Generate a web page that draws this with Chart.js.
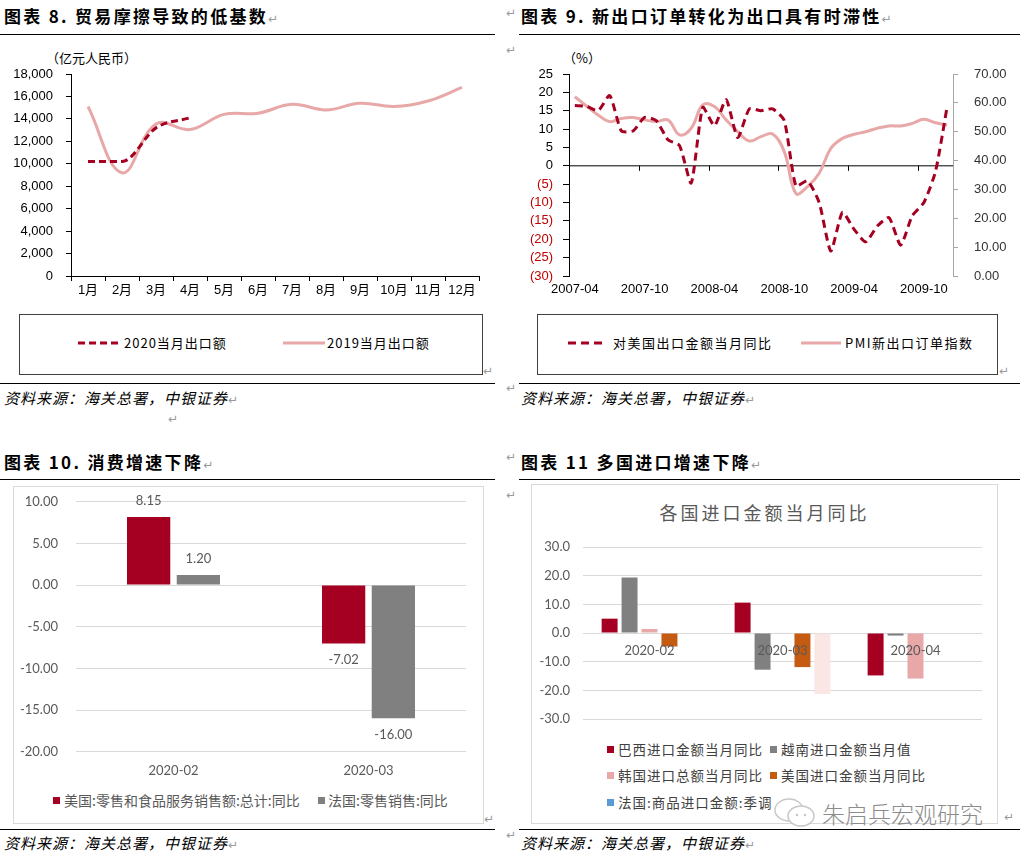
<!DOCTYPE html>
<html>
<head>
<meta charset="utf-8">
<script src="https://cdn.jsdelivr.net/npm/chart.js@4.4.1/dist/chart.umd.min.js"></script>
<style>
  body { margin: 0; width: 1030px; height: 858px; background: #fff; position: relative; overflow: hidden;
         font-family: "Noto Sans CJK SC", sans-serif; }
  .abs { position: absolute; white-space: nowrap; }
  .title { position: absolute; font-size: 17px; line-height: 20px; font-weight: 700; letter-spacing: 2.3px; color: #000; white-space: nowrap; }
  .rule { position: absolute; height: 0; border-top: 1.5px solid #000; }
  .src { position: absolute; font-size: 15px; line-height: 20px; font-style: italic; letter-spacing: 1px; white-space: nowrap; color: #000; }
  .ret { position: absolute; font-family: "DejaVu Sans", sans-serif; font-size: 12px; line-height: 14px; color: #999; letter-spacing: 0; font-weight: 400; }
  .unit { position: absolute; font-size: 13px; line-height: 16px; color: #000; white-space: nowrap; }
  .lgbox { position: absolute; border: 1.5px solid #404040; box-sizing: border-box; }
  .lgtext { position: absolute; font-size: 13px; line-height: 16px; letter-spacing: 1px; color: #000; white-space: nowrap; }
  .frame { position: absolute; border: 1px solid #d9d9d9; box-sizing: border-box; }
  .sq { position: absolute; width: 7px; height: 7px; }
  .lg2 { position: absolute; font-size: 14px; line-height: 18px; color: #595959; white-space: nowrap; }
  .lg3 { position: absolute; font-size: 13.5px; line-height: 18px; color: #404040; white-space: nowrap; }
  canvas { position: absolute; }
</style>
</head>
<body>

<!-- 图表 8 -->
<div class="title" style="left:4px;top:6px;">图表 8. 贸易摩擦导致的低基数<span class="ret" style="position:static;">↵</span></div>
<div class="rule" style="left:0;top:34px;width:495px;"></div>
<div class="unit" style="left:46px;top:50px;">（亿元人民币）</div>
<canvas id="c8" width="495" height="236" style="left:0;top:64px;"></canvas>
<div class="lgbox" style="left:19px;top:314px;width:464px;height:61px;"></div>
<svg class="abs" style="left:78px;top:338px;" width="44" height="10"><line x1="0" y1="5" x2="44" y2="5" stroke="#a50021" stroke-width="3" stroke-dasharray="7,4"/></svg>
<div class="lgtext" style="left:124px;top:335px;">2020当月出口额</div>
<svg class="abs" style="left:283px;top:338px;" width="42" height="10"><line x1="0" y1="5" x2="42" y2="5" stroke="#e8a8a8" stroke-width="3"/></svg>
<div class="lgtext" style="left:327px;top:335px;">2019当月出口额</div>
<div class="ret" style="left:483px;top:364px;">↵</div>
<div class="rule" style="left:0;top:383px;width:495px;"></div>
<div class="src" style="left:4px;top:388px;">资料来源：海关总署，中银证券<span class="ret" style="position:static;font-style:normal;">↵</span></div>
<div class="ret" style="left:168px;top:412px;">↵</div>

<!-- 图表 9 -->
<div class="ret" style="left:506px;top:6px;">↵</div>
<div class="title" style="left:521px;top:6px;">图表 9. 新出口订单转化为出口具有时滞性<span class="ret" style="position:static;">↵</span></div>
<div class="rule" style="left:519px;top:34px;width:501px;"></div>
<div class="ret" style="left:506px;top:43px;">↵</div>
<div class="unit" style="left:563px;top:50px;">（%）</div>
<canvas id="c9" width="525" height="236" style="left:505px;top:64px;"></canvas>
<div class="lgbox" style="left:537px;top:314px;width:461px;height:61px;"></div>
<svg class="abs" style="left:568px;top:338px;" width="34" height="10"><line x1="0" y1="5" x2="34" y2="5" stroke="#a50021" stroke-width="3" stroke-dasharray="8,5"/></svg>
<div class="lgtext" style="left:613px;top:335px;letter-spacing:1.5px;">对美国出口金额当月同比</div>
<svg class="abs" style="left:801px;top:338px;" width="40" height="10"><line x1="0" y1="5" x2="40" y2="5" stroke="#e8a8a8" stroke-width="3"/></svg>
<div class="lgtext" style="left:845px;top:335px;letter-spacing:1.5px;">PMI新出口订单指数</div>
<div class="ret" style="left:999px;top:364px;">↵</div>
<div class="ret" style="left:506px;top:381px;">↵</div>
<div class="rule" style="left:519px;top:383px;width:501px;"></div>
<div class="src" style="left:521px;top:388px;">资料来源：海关总署，中银证券<span class="ret" style="position:static;font-style:normal;">↵</span></div>

<!-- 图表 10 -->
<div class="title" style="left:4px;top:452px;">图表 10. 消费增速下降<span class="ret" style="position:static;">↵</span></div>
<div class="rule" style="left:0;top:479px;width:495px;"></div>
<div class="frame" style="left:13px;top:486px;width:471px;height:338px;"></div>
<canvas id="c10" width="468" height="290" style="left:14px;top:487px;"></canvas>
<div class="sq" style="left:53px;top:797px;background:#a50021;"></div>
<div class="lg2" style="left:64px;top:791px;">美国:零售和食品服务销售额:总计:同比</div>
<div class="sq" style="left:318px;top:797px;background:#808080;"></div>
<div class="lg2" style="left:328px;top:791px;">法国:零售销售:同比</div>
<div class="ret" style="left:484px;top:812px;">↵</div>
<div class="rule" style="left:0;top:829px;width:495px;"></div>
<div class="src" style="left:4px;top:833px;">资料来源：海关总署，中银证券<span class="ret" style="position:static;font-style:normal;">↵</span></div>

<!-- 图表 11 -->
<div class="ret" style="left:506px;top:450px;">↵</div>
<div class="title" style="left:521px;top:452px;">图表 11 多国进口增速下降<span class="ret" style="position:static;">↵</span></div>
<div class="rule" style="left:519px;top:479px;width:501px;"></div>
<div class="ret" style="left:506px;top:488px;">↵</div>
<div class="frame" style="left:531px;top:484px;width:467px;height:340px;"></div>
<div class="abs" style="left:531px;top:499px;width:467px;text-align:center;font-size:18px;line-height:26px;letter-spacing:3px;color:#595959;">各国进口金额当月同比</div>
<canvas id="c11" width="464" height="200" style="left:532px;top:530px;"></canvas>
<div class="sq" style="left:607px;top:746px;background:#a50021;"></div>
<div class="lg3" style="left:618px;top:740px;letter-spacing:1px;">巴西进口金额当月同比</div>
<div class="sq" style="left:770px;top:746px;background:#808080;"></div>
<div class="lg3" style="left:781px;top:740px;letter-spacing:1px;">越南进口金额当月值</div>
<div class="sq" style="left:607px;top:772px;background:#e8a8a8;"></div>
<div class="lg3" style="left:618px;top:766px;letter-spacing:1px;">韩国进口总额当月同比</div>
<div class="sq" style="left:770px;top:772px;background:#c55a11;"></div>
<div class="lg3" style="left:781px;top:766px;letter-spacing:1px;">美国进口金额当月同比</div>
<div class="sq" style="left:607px;top:799px;background:#5b9bd5;"></div>
<div class="lg3" style="left:618px;top:793px;letter-spacing:1px;">法国:商品进口金额:季调</div>
<svg class="abs" style="left:772px;top:796px;" width="46" height="34">
  <ellipse cx="17" cy="14" rx="14" ry="11" fill="none" stroke="#c8c8c8" stroke-width="1.5"/>
  <ellipse cx="29" cy="20" rx="13" ry="10" fill="#fff" stroke="#c8c8c8" stroke-width="1.5"/>
  <circle cx="25" cy="19" r="1.3" fill="#c8c8c8"/><circle cx="33" cy="19" r="1.3" fill="#c8c8c8"/>
</svg>
<div class="abs" style="left:822px;top:798px;font-size:23px;line-height:30px;color:#8c8c8c;font-weight:300;">朱启兵宏观研究</div>
<div class="ret" style="left:1004px;top:810px;">↵</div>
<div class="ret" style="left:506px;top:828px;">↵</div>
<div class="rule" style="left:519px;top:829px;width:501px;"></div>
<div class="src" style="left:521px;top:833px;">资料来源：海关总署，中银证券<span class="ret" style="position:static;font-style:normal;">↵</span></div>

<script>
// 图表 8 data
const months = ['1月', '2月', '3月', '4月', '5月', '6月', '7月', '8月', '9月', '10月', '11月', '12月'];
const exports2020 = [10200, 10200, 13200, 14100];
const exports2019 = [15100, 9200, 13550, 13050, 14400, 14500, 15300, 14800, 15400, 15100, 15600, 16800];

// 图表 9 data
const pmiMonths = ['2007-04', '2007-05', '2007-06', '2007-07', '2007-08', '2007-09', '2007-10', '2007-11', '2007-12',
  '2008-01', '2008-02', '2008-03', '2008-04', '2008-05', '2008-06', '2008-07', '2008-08', '2008-09', '2008-10',
  '2008-11', '2008-12', '2009-01', '2009-02', '2009-03', '2009-04', '2009-05', '2009-06', '2009-07', '2009-08',
  '2009-09', '2009-10', '2009-11', '2009-12'];
const usExportYoY = [16.4, 16.2, 15.0, 19.1, 9.5, 9.5, 13.2, 12.3, 7.1, 5.5, -4.7, 15.9, 10.9, 18.0, 7.7, 15.5, 15.0,
  15.5, 12.3, -5.5, -4.1, -10.0, -23.2, -12.7, -17.3, -20.7, -16.4, -14.1, -21.6, -13.6, -10.0, -1.5, 16.2];
const pmiNewExport = [62.1, 58.9, 55.8, 53.5, 54.6, 54.9, 54.1, 53.5, 54.1, 48.9, 51.2, 59.3, 58.7, 54.1, 50.0, 46.8,
  48.3, 49.2, 43.1, 28.6, 31.0, 35.6, 44.2, 47.7, 49.1, 50.0, 51.2, 52.0, 52.0, 52.9, 54.3, 53.1, 52.3];

// 图表 10 data
const retailMonths = ['2020-02', '2020-03'];
const usRetail = [8.15, -7.02];
const frRetail = [1.20, -16.00];

// 图表 11 data
const importMonths = ['2020-02', '2020-03', '2020-04'];
const brazilImport = [5.0, 10.6, -14.8];
const vietnamImport = [19.4, -12.8, -0.9];
const koreaImport = [1.4, 0.2, -15.9];
const usImport = [-4.7, -11.9, null];
const franceImport = [null, -21.3, null];

Chart.defaults.font.family = '"Liberation Sans", "Noto Sans CJK SC", sans-serif';
Chart.defaults.font.size = 13;
Chart.defaults.color = '#000';

const RED = '#a50021';
const PINK = '#e8a8a8';
const calibri = { family: 'Lato, "Noto Sans CJK SC", sans-serif', size: 13 };

// fixed axis sizes, and no extra label padding added to the plot area
function fixWidth(w) {
  return (s) => { s.width = w; s.paddingTop = 0; s.paddingBottom = 0; };
}
function fixHeight(h) {
  return (s) => { s.height = h; s.paddingLeft = 0; s.paddingRight = 0; };
}

// ---------- 图表 8 ----------
new Chart(document.getElementById('c8'), {
  type: 'line',
  data: {
    labels: months,
    datasets: [
      { label: '2020当月出口额', data: exports2020, borderColor: RED, borderWidth: 3, borderDash: [7, 4],
        pointRadius: 0, cubicInterpolationMode: 'monotone', fill: false },
      { label: '2019当月出口额', data: exports2019, borderColor: PINK, borderWidth: 3,
        pointRadius: 0, tension: 0.4, fill: false }
    ]
  },
  options: {
    responsive: false,
    animation: false,
    layout: { padding: { top: 10, right: 16, left: 0, bottom: 0 } },
    plugins: { legend: { display: false }, tooltip: { enabled: false } },
    scales: {
      x: {
        offset: true,
        grid: { offset: true, drawOnChartArea: false, tickLength: 5, color: '#000' },
        border: { color: '#000', width: 1 },
        ticks: { padding: 2, maxRotation: 0, autoSkip: false, color: '#000' },
        afterFit: fixHeight(24)
      },
      y: {
        min: 0, max: 18000,
        grid: { drawOnChartArea: false, tickLength: 5, color: '#000' },
        border: { color: '#000', width: 1 },
        ticks: { stepSize: 2000, padding: 13, color: '#000', autoSkip: false,
          callback: (v) => v.toLocaleString('en-US') },
        afterFit: fixWidth(71)
      }
    }
  }
});

// ---------- 图表 9 ----------
const zeroAxis = {
  id: 'zeroAxis',
  beforeDatasetsDraw(chart) {
    const { ctx, chartArea, scales } = chart;
    const y0 = scales.y.getPixelForValue(0);
    ctx.save();
    ctx.strokeStyle = '#000';
    ctx.lineWidth = 1;
    ctx.beginPath();
    ctx.moveTo(chartArea.left, y0);
    ctx.lineTo(chartArea.right, y0);
    for (let i = 6; i < pmiMonths.length; i += 6) {
      const x = Math.round((scales.x.getPixelForValue(i - 1) + scales.x.getPixelForValue(i)) / 2) + 0.5;
      ctx.moveTo(x, y0);
      ctx.lineTo(x, y0 + 5);
    }
    ctx.stroke();
    ctx.restore();
  }
};

new Chart(document.getElementById('c9'), {
  type: 'line',
  data: {
    labels: pmiMonths,
    datasets: [
      { label: '对美国出口金额当月同比', data: usExportYoY, yAxisID: 'y', borderColor: RED, borderWidth: 3,
        borderDash: [8, 5], pointRadius: 0, tension: 0.2, fill: false },
      { label: 'PMI新出口订单指数', data: pmiNewExport, yAxisID: 'y1', borderColor: PINK, borderWidth: 3,
        pointRadius: 0, tension: 0.4, fill: false }
    ]
  },
  options: {
    responsive: false,
    animation: false,
    layout: { padding: { top: 10, right: 0, left: 0, bottom: 0 } },
    plugins: { legend: { display: false }, tooltip: { enabled: false } },
    scales: {
      x: {
        offset: true,
        grid: { display: false, drawTicks: false },
        border: { display: false },
        ticks: { padding: 6, maxRotation: 0, autoSkip: false, color: '#000',
          callback: (v, i) => (i % 6 === 0 ? pmiMonths[i] : null) },
        afterFit: fixHeight(24)
      },
      y: {
        position: 'left',
        min: -30, max: 25,
        grid: { drawOnChartArea: false, tickLength: 6, color: '#000' },
        border: { color: '#000', width: 1 },
        ticks: { stepSize: 5, padding: 10, autoSkip: false,
          color: (c) => (c.tick.value < 0 ? '#c00000' : '#000'),
          callback: (v) => (v < 0 ? '(' + Math.abs(v) + ')' : String(v)) },
        afterFit: fixWidth(64)
      },
      y1: {
        position: 'right',
        min: 0, max: 70,
        grid: { drawOnChartArea: false, tickLength: 5, color: '#a6a6a6' },
        border: { color: '#a6a6a6', width: 1 },
        ticks: { stepSize: 10, padding: 16, autoSkip: false, color: '#333', callback: (v) => v.toFixed(2) },
        afterFit: fixWidth(77)
      }
    }
  },
  plugins: [zeroAxis]
});

// ---------- 图表 10 ----------
const barLabels = {
  id: 'barLabels',
  afterDatasetsDraw(chart) {
    const ctx = chart.ctx;
    ctx.save();
    ctx.font = '13px Lato, sans-serif';
    ctx.fillStyle = '#595959';
    ctx.textAlign = 'center';
    ctx.textBaseline = 'middle';
    chart.data.datasets.forEach((ds, di) => {
      chart.getDatasetMeta(di).data.forEach((bar, i) => {
        const v = ds.data[i];
        ctx.fillText(v.toFixed(2), bar.x, v >= 0 ? bar.y - 16 : bar.y + 16);
      });
    });
    ctx.restore();
  }
};

new Chart(document.getElementById('c10'), {
  type: 'bar',
  data: {
    labels: retailMonths,
    datasets: [
      { label: '美国:零售和食品服务销售额:总计:同比', data: usRetail, backgroundColor: RED },
      { label: '法国:零售销售:同比', data: frRetail, backgroundColor: '#808080' }
    ]
  },
  options: {
    responsive: false,
    animation: false,
    categoryPercentage: 0.51,
    barPercentage: 0.87,
    layout: { padding: { top: 14.7, right: 16, left: 0, bottom: 0 } },
    plugins: { legend: { display: false }, tooltip: { enabled: false } },
    scales: {
      x: {
        grid: { display: false, drawTicks: false },
        border: { display: false },
        ticks: { padding: 11, color: '#595959', font: calibri },
        afterFit: fixHeight(25.3)
      },
      y: {
        min: -20, max: 10,
        grid: { color: '#d9d9d9', drawTicks: false },
        border: { display: false },
        ticks: { stepSize: 5, padding: 18, color: '#595959', font: calibri, callback: (v) => v.toFixed(2) },
        afterFit: fixWidth(62)
      }
    }
  },
  plugins: [barLabels]
});

// ---------- 图表 11 ----------
// category names sit just under the zero line, drawn over the bars
const zeroCatLabels = {
  id: 'zeroCatLabels',
  afterDatasetsDraw(chart) {
    const { ctx, scales } = chart;
    const y0 = scales.y.getPixelForValue(0);
    ctx.save();
    ctx.font = '13px Lato, sans-serif';
    ctx.fillStyle = '#595959';
    ctx.textAlign = 'center';
    ctx.textBaseline = 'middle';
    importMonths.forEach((m, i) => ctx.fillText(m, scales.x.getPixelForValue(i), y0 + 18));
    ctx.restore();
  }
};

new Chart(document.getElementById('c11'), {
  type: 'bar',
  data: {
    labels: importMonths,
    datasets: [
      { label: '巴西进口金额当月同比', data: brazilImport, backgroundColor: RED },
      { label: '越南进口金额当月值', data: vietnamImport, backgroundColor: '#808080' },
      { label: '韩国进口总额当月同比', data: koreaImport, backgroundColor: PINK },
      { label: '美国进口金额当月同比', data: usImport, backgroundColor: '#c55a11' },
      { label: '法国:商品进口金额:季调', data: franceImport, backgroundColor: ['#5b9bd5', '#fbe6e6', '#5b9bd5'] }
    ]
  },
  options: {
    responsive: false,
    animation: false,
    categoryPercentage: 0.75,
    barPercentage: 0.8,
    layout: { padding: { top: 17, right: 14, left: 0, bottom: 11 } },
    plugins: { legend: { display: false }, tooltip: { enabled: false } },
    scales: {
      x: { display: false },
      y: {
        min: -30, max: 30,
        grid: { color: '#d9d9d9', drawTicks: false },
        border: { display: false },
        ticks: { stepSize: 10, padding: 13, color: '#595959', font: calibri, callback: (v) => v.toFixed(1) },
        afterFit: fixWidth(51)
      }
    }
  },
  plugins: [zeroCatLabels]
});
</script>
</body>
</html>
